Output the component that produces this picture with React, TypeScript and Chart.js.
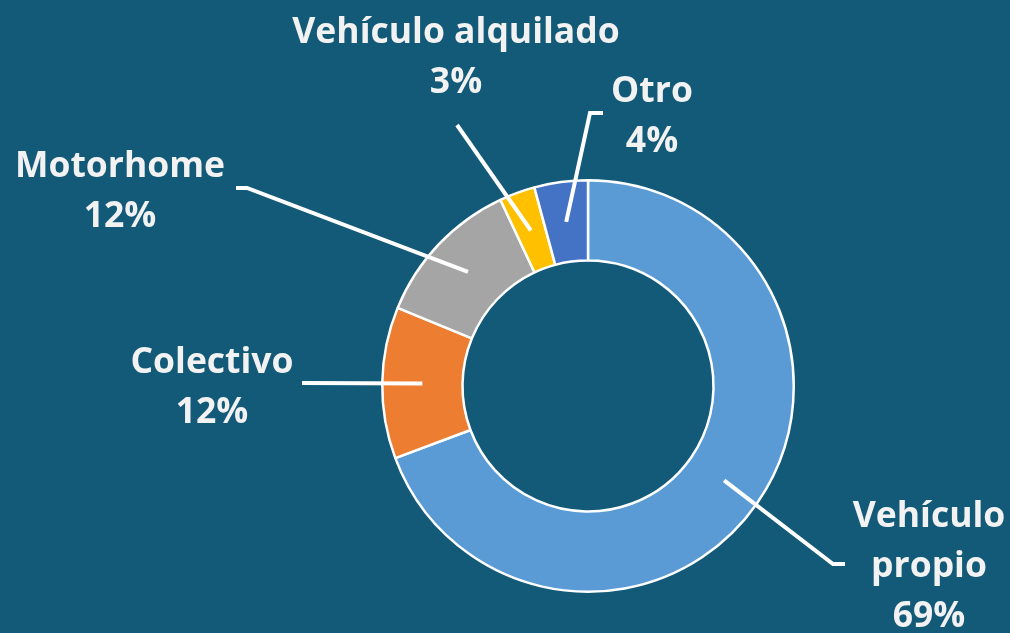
import React, { useEffect, useRef } from "react";
import { Chart, registerables } from "chart.js";

Chart.register(...registerables);

// ---- data ----
const categories = ["Vehículo propio", "Colectivo", "Motorhome", "Vehículo alquilado", "Otro"];
const labelLines = [["Vehículo", "propio"], ["Colectivo"], ["Motorhome"], ["Vehículo alquilado"], ["Otro"]];
const shares = [69.3, 11.9, 11.8, 2.8, 4.2];
const sliceColors = ["#5B9BD5", "#ED7D31", "#A5A5A5", "#FFC000", "#4472C4"];

// ---- label layout (text block centre x, first baseline y, leader path after slice centre) ----
const labelLayout = [
  { x: 929, y: 527, path: [[833, 564], [845, 564]] },
  { x: 212, y: 373, path: [[302, 383]] },
  { x: 120, y: 177, path: [[247, 188], [236, 188]] },
  { x: 456, y: 43, path: [[457, 125]] },
  { x: 652, y: 102, path: [[590, 113], [603, 113]] },
];

const BG = "#135A78";
const FONT = "bold 35.5px 'Open Sans'";
const LINE_H = 50;

const labelPlugin = {
  id: "outsideLabels",
  afterDatasetsDraw(chart: any) {
    const ctx = chart.ctx;
    const meta = chart.getDatasetMeta(0);
    const total = shares.reduce((a, b) => a + b, 0);
    ctx.save();
    meta.data.forEach((arc: any, i: number) => {
      const p = arc.getCenterPoint();
      const lay = labelLayout[i];
      ctx.beginPath();
      ctx.moveTo(p.x, p.y);
      lay.path.forEach(([x, y]) => ctx.lineTo(x, y));
      ctx.strokeStyle = "#FFFFFF";
      ctx.lineWidth = 4;
      ctx.lineJoin = "miter";
      ctx.lineCap = "butt";
      ctx.stroke();

      const pct = Math.round((shares[i] / total) * 100) + "%";
      const lines = [...labelLines[i], pct];
      ctx.font = FONT;
      ctx.fillStyle = "#F2F2F2";
      ctx.textAlign = "center";
      ctx.textBaseline = "alphabetic";
      lines.forEach((t, k) => ctx.fillText(t, lay.x, lay.y + k * LINE_H));
    });
    ctx.restore();
  },
};

export default function App() {
  const ref = useRef<HTMLCanvasElement>(null);
  useEffect(() => {
    const chart = new Chart(ref.current as HTMLCanvasElement, {
      type: "doughnut",
      data: {
        labels: categories,
        datasets: [
          {
            data: shares,
            backgroundColor: sliceColors,
            borderColor: "#FFFFFF",
            borderWidth: 2.5,
            hoverOffset: 0,
            offset: 0,
          },
        ],
      },
      options: {
        responsive: false,
        animation: false,
        devicePixelRatio: 1,
        cutout: "61%",
        layout: { padding: { left: 381, right: 215, top: 179, bottom: 40 } },
        plugins: { legend: { display: false }, tooltip: { enabled: false } },
        events: [],
      },
      plugins: [labelPlugin],
    } as any);
    return () => chart.destroy();
  }, []);
  return (
    <div style={{ position: "fixed", left: 0, top: 0, width: 1010, height: 633, background: BG }}>
      <canvas ref={ref} width={1010} height={633} style={{ display: "block" }} />
    </div>
  );
}
